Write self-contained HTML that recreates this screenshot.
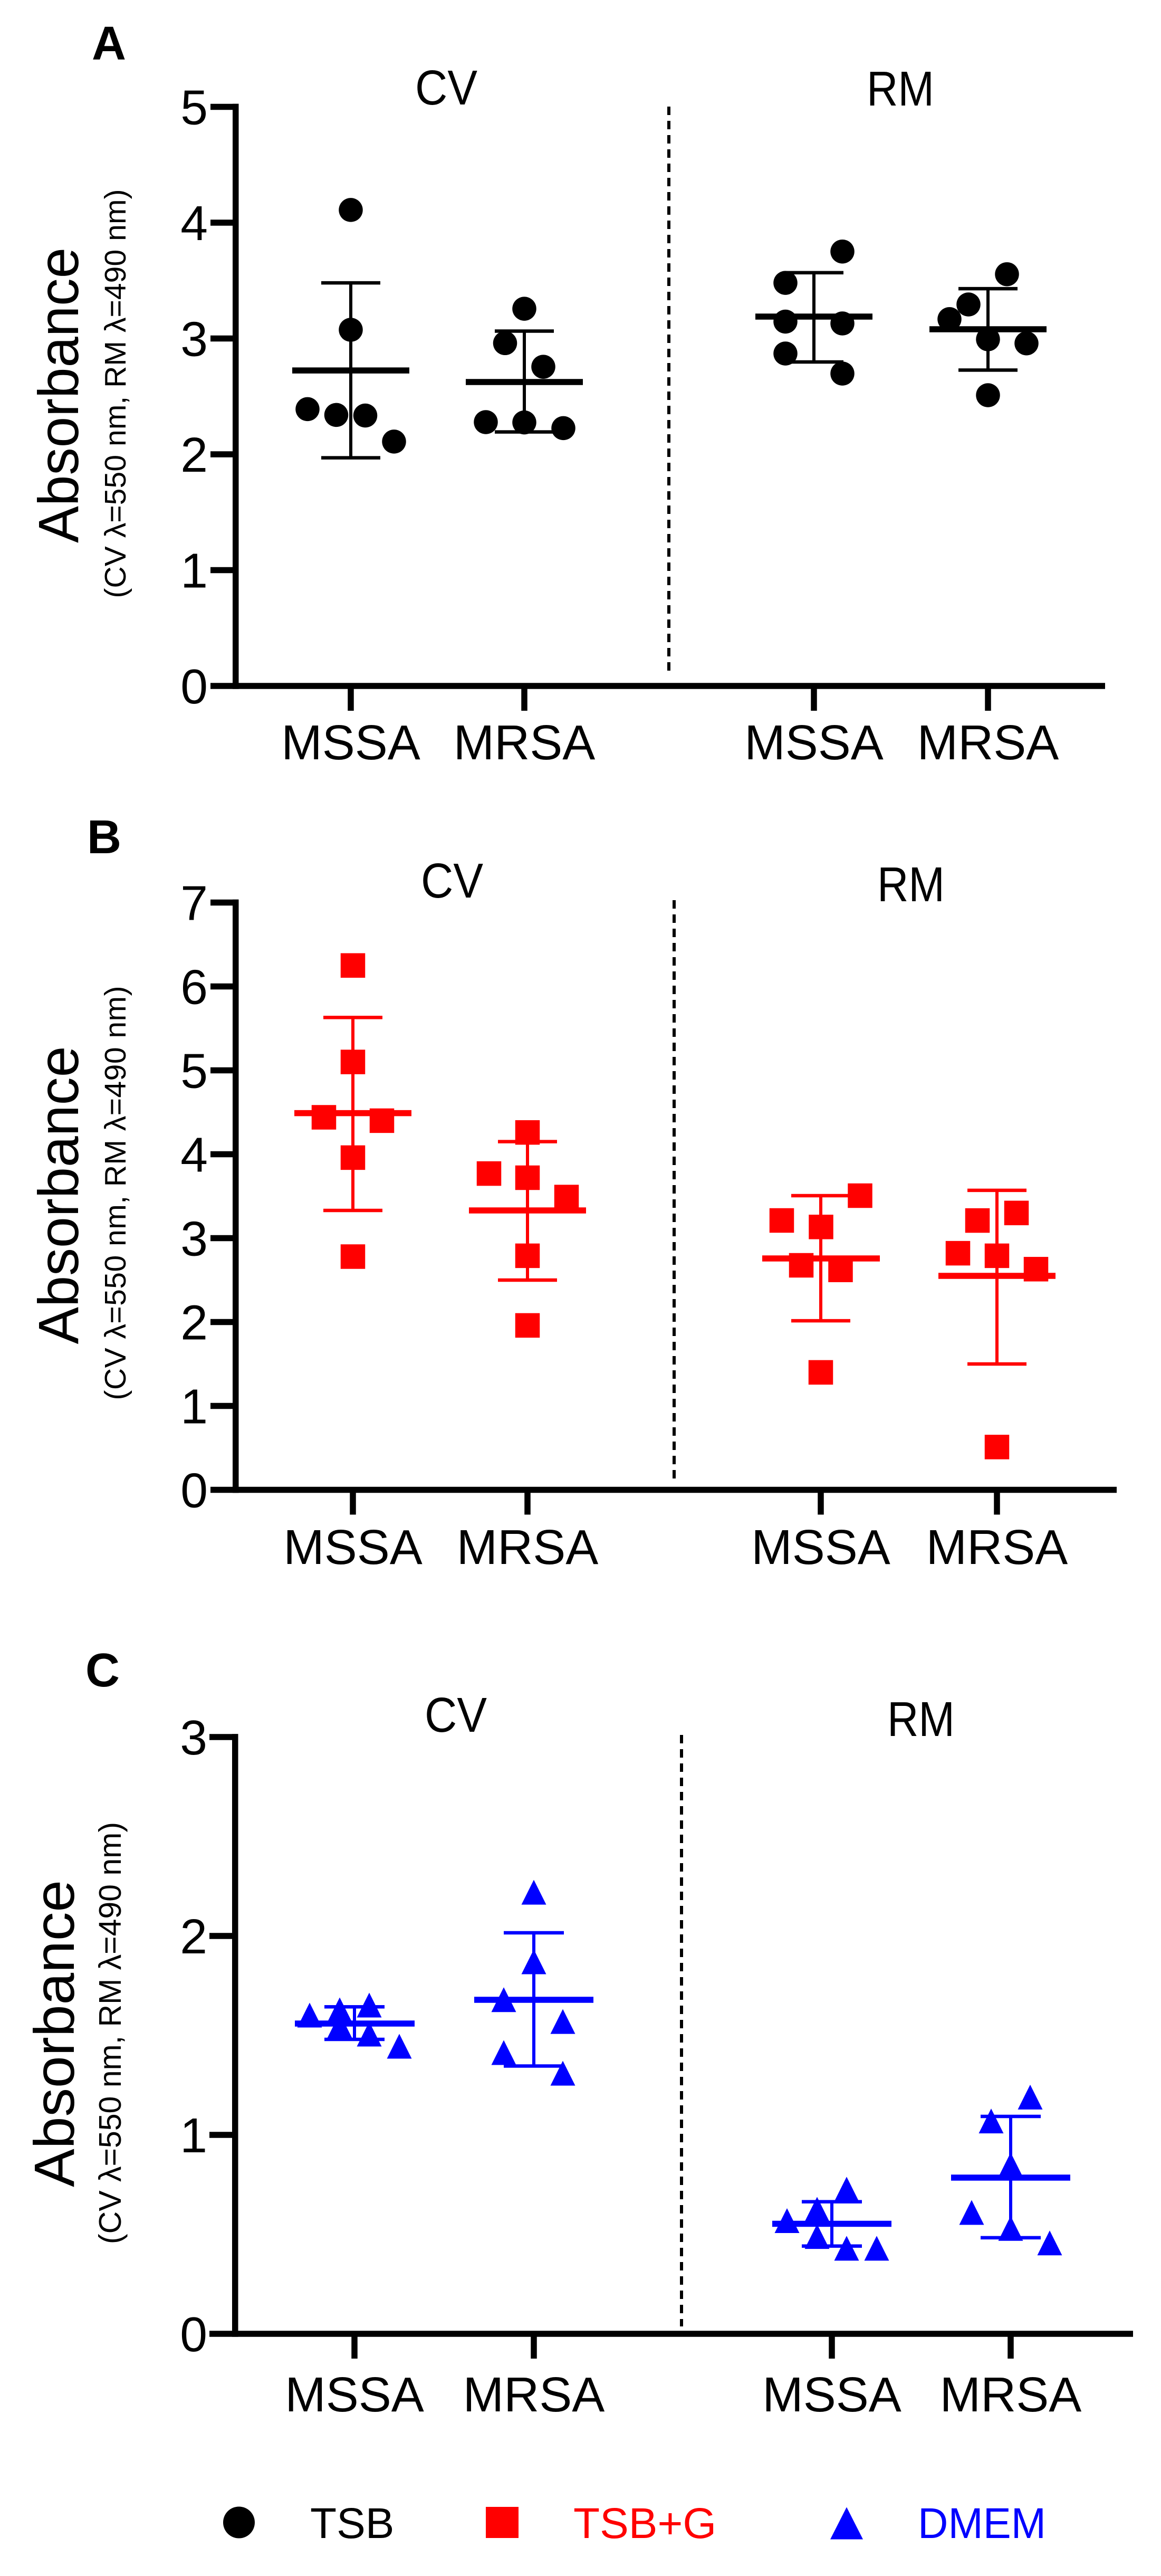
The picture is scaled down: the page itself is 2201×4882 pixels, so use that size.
<!DOCTYPE html>
<html>
<head>
<meta charset="utf-8">
<style>
html,body{margin:0;padding:0;background:#fff;}
svg{display:block;}
text{font-family:"Liberation Sans",Arial,sans-serif;}
.tl{font-size:93px;text-anchor:end;}
.cl{font-size:93px;text-anchor:middle;}
.hd{font-size:93px;text-anchor:middle;}
.pl{font-size:90px;font-weight:bold;}
.yt{font-size:108px;text-anchor:middle;}
.ys{font-size:57px;text-anchor:middle;}
.lg{font-size:82px;}
</style>
</head>
<body>
<svg width="2201" height="4882" viewBox="0 0 2201 4882" xmlns="http://www.w3.org/2000/svg">
<rect width="2201" height="4882" fill="#fff"/>

<!-- ================= PANEL A ================= -->
<text class="pl" x="174" y="113">A</text>
<text class="hd" x="846" y="198" textLength="118" lengthAdjust="spacingAndGlyphs">CV</text>
<text class="hd" x="1707" y="200" textLength="128" lengthAdjust="spacingAndGlyphs">RM</text>
<text class="yt" transform="translate(148,749) rotate(-90)" textLength="560" lengthAdjust="spacingAndGlyphs">Absorbance</text>
<text class="ys" transform="translate(238,746) rotate(-90)" textLength="775" lengthAdjust="spacing">(CV λ=550 nm, RM λ=490 nm)</text>
<g fill="#000">
<rect x="441" y="196.75" width="11.5" height="1109"/>
<rect x="399" y="196.75" width="53.5" height="11.5"/>
<rect x="399" y="416.25" width="53.5" height="11.5"/>
<rect x="399" y="635.75" width="53.5" height="11.5"/>
<rect x="399" y="855.25" width="53.5" height="11.5"/>
<rect x="399" y="1074.75" width="53.5" height="11.5"/>
<rect x="399" y="1294.25" width="1696" height="11.5"/>
<rect x="659.25" y="1300" width="11.5" height="47"/>
<rect x="988.25" y="1300" width="11.5" height="47"/>
<rect x="1537.25" y="1300" width="11.5" height="47"/>
<rect x="1867.25" y="1300" width="11.5" height="47"/>
</g>
<g>
<text class="tl" x="394" y="235.5">5</text>
<text class="tl" x="394" y="455">4</text>
<text class="tl" x="394" y="674.5">3</text>
<text class="tl" x="394" y="894">2</text>
<text class="tl" x="394" y="1113.5">1</text>
<text class="tl" x="394" y="1333">0</text>
<text class="cl" x="665" y="1439">MSSA</text>
<text class="cl" x="994" y="1439">MRSA</text>
<text class="cl" x="1543" y="1439">MSSA</text>
<text class="cl" x="1873" y="1439">MRSA</text>
</g>
<line x1="1268" y1="202" x2="1268" y2="1282" stroke="#000" stroke-width="6" stroke-dasharray="16 11"/>
<g fill="#000" stroke="none">
<!-- MSSA CV -->
<circle cx="665" cy="397.9" r="22.75"/>
<circle cx="665" cy="625" r="22.75"/>
<circle cx="583" cy="775.4" r="22.75"/>
<circle cx="637.5" cy="786.4" r="22.75"/>
<circle cx="692.5" cy="787.5" r="22.75"/>
<circle cx="747" cy="836.9" r="22.75"/>
<rect x="554" y="696.35" width="222" height="11.5"/>
<rect x="662" y="536.1" width="6" height="331.5"/>
<rect x="609" y="532.85" width="112" height="6.5"/>
<rect x="609" y="864.35" width="112" height="6.5"/>
<!-- MRSA CV -->
<circle cx="994" cy="585.1" r="22.75"/>
<circle cx="957.5" cy="650.3" r="22.75"/>
<circle cx="1030" cy="695.1" r="22.75"/>
<circle cx="921" cy="800" r="22.75"/>
<circle cx="994" cy="800.6" r="22.75"/>
<circle cx="1068" cy="811.4" r="22.75"/>
<rect x="883" y="718.25" width="222" height="11.5"/>
<rect x="991" y="627.5" width="6" height="191.1"/>
<rect x="938" y="624.25" width="112" height="6.5"/>
<rect x="938" y="815.35" width="112" height="6.5"/>
<!-- MSSA RM -->
<circle cx="1597" cy="476.7" r="22.75"/>
<circle cx="1489" cy="536.1" r="22.75"/>
<circle cx="1489" cy="609.5" r="22.75"/>
<circle cx="1597" cy="613" r="22.75"/>
<circle cx="1489" cy="670" r="22.75"/>
<circle cx="1597" cy="708" r="22.75"/>
<rect x="1432" y="594.25" width="222" height="11.5"/>
<rect x="1540" y="516.8" width="6" height="169.2"/>
<rect x="1487" y="513.55" width="112" height="6.5"/>
<rect x="1487" y="682.75" width="112" height="6.5"/>
<!-- MRSA RM -->
<circle cx="1909" cy="519.7" r="22.75"/>
<circle cx="1836" cy="577" r="22.75"/>
<circle cx="1800" cy="604.8" r="22.75"/>
<circle cx="1873" cy="643" r="22.75"/>
<circle cx="1946" cy="650.7" r="22.75"/>
<circle cx="1873" cy="749" r="22.75"/>
<rect x="1762" y="618.25" width="222" height="11.5"/>
<rect x="1870" y="547.1" width="6" height="154.3"/>
<rect x="1817" y="543.85" width="112" height="6.5"/>
<rect x="1817" y="698.15" width="112" height="6.5"/>
</g>

<!-- ================= PANEL B ================= -->
<text class="pl" x="165" y="1617">B</text>
<text class="hd" x="857" y="1701" textLength="118" lengthAdjust="spacingAndGlyphs">CV</text>
<text class="hd" x="1727" y="1708" textLength="128" lengthAdjust="spacingAndGlyphs">RM</text>
<text class="yt" transform="translate(148,2265) rotate(-90)" textLength="565" lengthAdjust="spacingAndGlyphs">Absorbance</text>
<text class="ys" transform="translate(238,2261) rotate(-90)" textLength="785" lengthAdjust="spacing">(CV λ=550 nm, RM λ=490 nm)</text>
<g fill="#000">
<rect x="441" y="1704.75" width="11.5" height="1124.5"/>
<rect x="399" y="1704.75" width="53.5" height="11.5"/>
<rect x="399" y="1863.75" width="53.5" height="11.5"/>
<rect x="399" y="2022.75" width="53.5" height="11.5"/>
<rect x="399" y="2181.75" width="53.5" height="11.5"/>
<rect x="399" y="2340.75" width="53.5" height="11.5"/>
<rect x="399" y="2499.75" width="53.5" height="11.5"/>
<rect x="399" y="2658.75" width="53.5" height="11.5"/>
<rect x="399" y="2817.75" width="1718" height="11.5"/>
<rect x="663.25" y="2823.5" width="11.5" height="47"/>
<rect x="994.25" y="2823.5" width="11.5" height="47"/>
<rect x="1550.25" y="2823.5" width="11.5" height="47"/>
<rect x="1884.25" y="2823.5" width="11.5" height="47"/>
</g>
<g>
<text class="tl" x="394" y="1743.5">7</text>
<text class="tl" x="394" y="1902.5">6</text>
<text class="tl" x="394" y="2061.5">5</text>
<text class="tl" x="394" y="2220.5">4</text>
<text class="tl" x="394" y="2379.5">3</text>
<text class="tl" x="394" y="2538.5">2</text>
<text class="tl" x="394" y="2697.5">1</text>
<text class="tl" x="394" y="2856.5">0</text>
<text class="cl" x="669" y="2964">MSSA</text>
<text class="cl" x="1000" y="2964">MRSA</text>
<text class="cl" x="1556" y="2964">MSSA</text>
<text class="cl" x="1890" y="2964">MRSA</text>
</g>
<line x1="1278" y1="1706" x2="1278" y2="2806" stroke="#000" stroke-width="6" stroke-dasharray="16 11"/>
<g fill="#ff0000" stroke="none">
<!-- MSSA CV -->
<rect x="645.75" y="1806.5" width="46.5" height="46.5"/>
<rect x="645.75" y="1989.35" width="46.5" height="46.5"/>
<rect x="590.75" y="2094.25" width="46.5" height="46.5"/>
<rect x="700.75" y="2100.65" width="46.5" height="46.5"/>
<rect x="645.75" y="2170.65" width="46.5" height="46.5"/>
<rect x="645.75" y="2358.25" width="46.5" height="46.5"/>
<rect x="558" y="2103.85" width="222" height="11.5"/>
<rect x="666" y="1928.3" width="6" height="365.7"/>
<rect x="613" y="1925.05" width="112" height="6.5"/>
<rect x="613" y="2290.75" width="112" height="6.5"/>
<!-- MRSA CV -->
<rect x="976.75" y="2122.95" width="46.5" height="46.5"/>
<rect x="903.75" y="2200.85" width="46.5" height="46.5"/>
<rect x="976.75" y="2208.75" width="46.5" height="46.5"/>
<rect x="1050.75" y="2245.35" width="46.5" height="46.5"/>
<rect x="976.75" y="2356.65" width="46.5" height="46.5"/>
<rect x="976.75" y="2488.65" width="46.5" height="46.5"/>
<rect x="889" y="2288.25" width="222" height="11.5"/>
<rect x="997" y="2163.6" width="6" height="262.4"/>
<rect x="944" y="2160.35" width="112" height="6.5"/>
<rect x="944" y="2422.75" width="112" height="6.5"/>
<!-- MSSA RM -->
<rect x="1607.25" y="2242.75" width="46.5" height="46.5"/>
<rect x="1458.75" y="2289.75" width="46.5" height="46.5"/>
<rect x="1533.25" y="2302.05" width="46.5" height="46.5"/>
<rect x="1495.75" y="2374.75" width="46.5" height="46.5"/>
<rect x="1570.25" y="2383.45" width="46.5" height="46.5"/>
<rect x="1532.75" y="2577.65" width="46.5" height="46.5"/>
<rect x="1445" y="2379.25" width="223" height="11.5"/>
<rect x="1553" y="2266" width="6" height="237.1"/>
<rect x="1500" y="2262.75" width="112" height="6.5"/>
<rect x="1500" y="2499.85" width="112" height="6.5"/>
<!-- MRSA RM -->
<rect x="1903.75" y="2275.55" width="46.5" height="46.5"/>
<rect x="1829.75" y="2289.85" width="46.5" height="46.5"/>
<rect x="1792.75" y="2351.85" width="46.5" height="46.5"/>
<rect x="1866.75" y="2356.65" width="46.5" height="46.5"/>
<rect x="1940.75" y="2382.05" width="46.5" height="46.5"/>
<rect x="1866.75" y="2719.15" width="46.5" height="46.5"/>
<rect x="1779" y="2412.25" width="222" height="11.5"/>
<rect x="1887" y="2255.9" width="6" height="329.1"/>
<rect x="1834" y="2252.65" width="112" height="6.5"/>
<rect x="1834" y="2581.75" width="112" height="6.5"/>
</g>

<!-- ================= PANEL C ================= -->
<text class="pl" x="162" y="3196">C</text>
<text class="hd" x="864" y="3282" textLength="118" lengthAdjust="spacingAndGlyphs">CV</text>
<text class="hd" x="1746" y="3290" textLength="128" lengthAdjust="spacingAndGlyphs">RM</text>
<text class="yt" transform="translate(140,3854) rotate(-90)" textLength="582" lengthAdjust="spacingAndGlyphs">Absorbance</text>
<text class="ys" transform="translate(229,3853) rotate(-90)" textLength="800" lengthAdjust="spacing" style="font-size:59px">(CV λ=550 nm, RM λ=490 nm)</text>
<g fill="#000">
<rect x="440" y="3286.25" width="11.5" height="1142.5"/>
<rect x="397" y="3286.25" width="54.5" height="11.5"/>
<rect x="397" y="3663.25" width="54.5" height="11.5"/>
<rect x="397" y="4040.25" width="54.5" height="11.5"/>
<rect x="397" y="4417.25" width="1751" height="11.5"/>
<rect x="666.25" y="4423" width="11.5" height="47"/>
<rect x="1006.25" y="4423" width="11.5" height="47"/>
<rect x="1571.25" y="4423" width="11.5" height="47"/>
<rect x="1910.25" y="4423" width="11.5" height="47"/>
</g>
<g>
<text class="tl" x="393" y="3325">3</text>
<text class="tl" x="393" y="3702">2</text>
<text class="tl" x="393" y="4079">1</text>
<text class="tl" x="393" y="4456">0</text>
<text class="cl" x="672" y="4570">MSSA</text>
<text class="cl" x="1012" y="4570">MRSA</text>
<text class="cl" x="1577" y="4570">MSSA</text>
<text class="cl" x="1916" y="4570">MRSA</text>
</g>
<line x1="1292" y1="3288" x2="1292" y2="4409" stroke="#000" stroke-width="6" stroke-dasharray="16 11"/>
<g fill="#0000ff" stroke="none">
<!-- MSSA CV -->
<polygon points="587,3795.5 610.5,3842.5 563.5,3842.5"/>
<polygon points="644,3785.5 667.5,3832.5 620.5,3832.5"/>
<polygon points="700,3776.5 723.5,3823.5 676.5,3823.5"/>
<polygon points="644,3815.5 667.5,3862.5 620.5,3862.5"/>
<polygon points="700,3831.5 723.5,3878.5 676.5,3878.5"/>
<polygon points="757,3854.5 780.5,3901.5 733.5,3901.5"/>
<rect x="559" y="3829.25" width="227" height="11.5"/>
<rect x="669" y="3803.3" width="6" height="61.7"/>
<rect x="615" y="3800.05" width="114" height="6.5"/>
<rect x="615" y="3861.75" width="114" height="6.5"/>
<!-- MRSA CV -->
<polygon points="1012,3562.6 1035.5,3609.6 988.5,3609.6"/>
<polygon points="1012,3694.5 1035.5,3741.5 988.5,3741.5"/>
<polygon points="955,3766.2 978.5,3813.2 931.5,3813.2"/>
<polygon points="1067,3807.6 1090.5,3854.6 1043.5,3854.6"/>
<polygon points="955,3866.5 978.5,3913.5 931.5,3913.5"/>
<polygon points="1067,3905.6 1090.5,3952.6 1043.5,3952.6"/>
<rect x="899" y="3784.25" width="226" height="11.5"/>
<rect x="1009" y="3663" width="6" height="252.5"/>
<rect x="955" y="3659.75" width="114" height="6.5"/>
<rect x="955" y="3912.25" width="114" height="6.5"/>
<!-- MSSA RM -->
<polygon points="1492,4185 1515.5,4232 1468.5,4232"/>
<polygon points="1549,4163.5 1572.5,4210.5 1525.5,4210.5"/>
<polygon points="1605,4125.4 1628.5,4172.4 1581.5,4172.4"/>
<polygon points="1549,4215.1 1572.5,4262.1 1525.5,4262.1"/>
<polygon points="1605,4237.4 1628.5,4284.4 1581.5,4284.4"/>
<polygon points="1662,4237.4 1685.5,4284.4 1638.5,4284.4"/>
<rect x="1464" y="4208.75" width="226" height="11.5"/>
<rect x="1574" y="4172.7" width="6" height="84"/>
<rect x="1520" y="4169.45" width="114" height="6.5"/>
<rect x="1520" y="4253.45" width="114" height="6.5"/>
<!-- MRSA RM -->
<polygon points="1953,3950.9 1976.5,3997.9 1929.5,3997.9"/>
<polygon points="1879,3996.1 1902.5,4043.1 1855.5,4043.1"/>
<polygon points="1916,4079.5 1939.5,4126.5 1892.5,4126.5"/>
<polygon points="1842,4169.5 1865.5,4216.5 1818.5,4216.5"/>
<polygon points="1916,4199.7 1939.5,4246.7 1892.5,4246.7"/>
<polygon points="1990,4227.2 2013.5,4274.2 1966.5,4274.2"/>
<rect x="1803" y="4121.25" width="226" height="11.5"/>
<rect x="1913" y="4011" width="6" height="229.9"/>
<rect x="1859" y="4007.75" width="114" height="6.5"/>
<rect x="1859" y="4237.65" width="114" height="6.5"/>
</g>

<!-- ================= LEGEND ================= -->
<circle cx="453" cy="4780.5" r="30" fill="#000"/>
<text class="lg" x="588" y="4810" fill="#000">TSB</text>
<rect x="921" y="4751" width="62" height="59" fill="#ff0000"/>
<text class="lg" x="1087" y="4810" fill="#ff0000">TSB+G</text>
<polygon points="1605,4751.5 1636,4812.5 1574,4812.5" fill="#0000ff"/>
<text class="lg" x="1740" y="4810" fill="#0000ff" textLength="243" lengthAdjust="spacingAndGlyphs">DMEM</text>
</svg>
</body>
</html>
